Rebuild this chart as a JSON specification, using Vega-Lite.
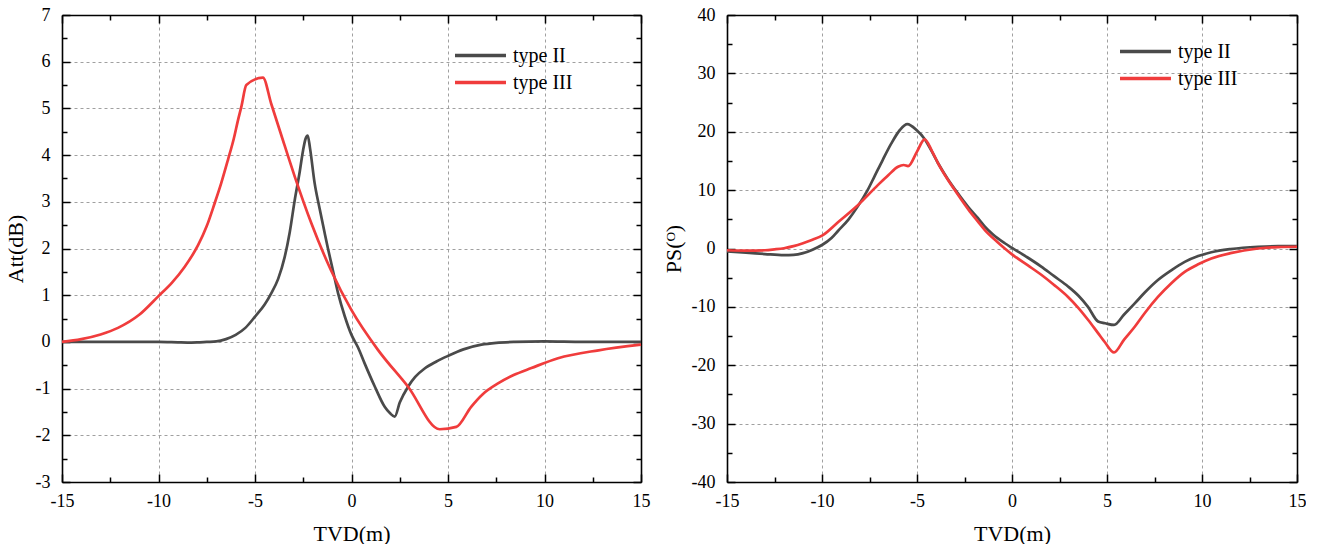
{
  "$schema": "https://vega.github.io/schema/vega-lite/v6.json",
  "background": "white",
  "padding": {"left": 4, "top": 6, "right": 0, "bottom": 0},
  "config": {
    "font": "Liberation Serif",
    "view": {"stroke": null},
    "style": {"guide-label": {"font": "Liberation Serif", "fontSize": 18, "fill": "black"}, "guide-title": {"font": "Liberation Serif", "fontSize": 22, "fontWeight": "normal", "fill": "black"}},
    "axis": {
      "domainColor": "black", "domainWidth": 1.6,
      "tickColor": "black", "tickWidth": 1.5,
      "labelFont": "Liberation Serif", "labelFontSize": 18, "labelColor": "black",
      "titleFont": "Liberation Serif", "titleFontSize": 22, "titleFontWeight": "normal", "titleColor": "black",
      "gridColor": "#a0a0a0", "gridDash": [3, 3], "gridWidth": 1,
      "labelOverlap": false, "labelFlush": false
    },
    "legend": {
      "labelFont": "Liberation Serif", "labelFontSize": 20, "labelColor": "black",
      "symbolType": "M-2,0H2", "symbolStrokeWidth": 3.5, "symbolSize": 650, "symbolFillColor": "transparent",
      "padding": 0, "rowPadding": 2, "labelOffset": 18
    }
  },
  "datasets": {
    "att": [
      {"x": -15, "y": 0, "type": "type II"}, {"x": -13, "y": 0, "type": "type II"}, {"x": -11, "y": 0, "type": "type II"}, {"x": -10, "y": 0, "type": "type II"}, {"x": -9, "y": -0.01, "type": "type II"}, {"x": -8.5, "y": -0.015, "type": "type II"}, {"x": -8, "y": -0.01, "type": "type II"}, {"x": -7.5, "y": 0.0, "type": "type II"}, {"x": -7, "y": 0.01, "type": "type II"}, {"x": -6.5, "y": 0.06, "type": "type II"}, {"x": -6, "y": 0.15, "type": "type II"}, {"x": -5.5, "y": 0.3, "type": "type II"}, {"x": -5, "y": 0.54, "type": "type II"}, {"x": -4.5, "y": 0.8, "type": "type II"}, {"x": -4.16, "y": 1.04, "type": "type II"}, {"x": -3.8, "y": 1.35, "type": "type II"}, {"x": -3.46, "y": 1.82, "type": "type II"}, {"x": -3.2, "y": 2.35, "type": "type II"}, {"x": -2.94, "y": 3.04, "type": "type II"}, {"x": -2.7, "y": 3.6, "type": "type II"}, {"x": -2.51, "y": 4.1, "type": "type II"}, {"x": -2.38, "y": 4.35, "type": "type II"}, {"x": -2.27, "y": 4.42, "type": "type II"}, {"x": -2.15, "y": 4.15, "type": "type II"}, {"x": -1.91, "y": 3.4, "type": "type II"}, {"x": -1.65, "y": 2.85, "type": "type II"}, {"x": -1.39, "y": 2.33, "type": "type II"}, {"x": -1.22, "y": 2.0, "type": "type II"}, {"x": -1.0, "y": 1.6, "type": "type II"}, {"x": -0.7, "y": 1.05, "type": "type II"}, {"x": -0.35, "y": 0.55, "type": "type II"}, {"x": 0, "y": 0.15, "type": "type II"}, {"x": 0.34, "y": -0.12, "type": "type II"}, {"x": 0.68, "y": -0.46, "type": "type II"}, {"x": 1.2, "y": -0.95, "type": "type II"}, {"x": 1.72, "y": -1.39, "type": "type II"}, {"x": 2.0, "y": -1.53, "type": "type II"}, {"x": 2.24, "y": -1.6, "type": "type II"}, {"x": 2.5, "y": -1.3, "type": "type II"}, {"x": 2.93, "y": -0.96, "type": "type II"}, {"x": 3.3, "y": -0.75, "type": "type II"}, {"x": 3.79, "y": -0.57, "type": "type II"}, {"x": 4.4, "y": -0.42, "type": "type II"}, {"x": 5.0, "y": -0.3, "type": "type II"}, {"x": 5.8, "y": -0.16, "type": "type II"}, {"x": 6.73, "y": -0.06, "type": "type II"}, {"x": 7.5, "y": -0.02, "type": "type II"}, {"x": 8.46, "y": 0.0, "type": "type II"}, {"x": 10, "y": 0.01, "type": "type II"}, {"x": 12, "y": 0, "type": "type II"}, {"x": 15, "y": 0, "type": "type II"},
      {"x": -15, "y": 0, "type": "type III"}, {"x": -14, "y": 0.06, "type": "type III"}, {"x": -13, "y": 0.16, "type": "type III"}, {"x": -12.1, "y": 0.3, "type": "type III"}, {"x": -11, "y": 0.58, "type": "type III"}, {"x": -10, "y": 0.98, "type": "type III"}, {"x": -9.3, "y": 1.27, "type": "type III"}, {"x": -8.64, "y": 1.61, "type": "type III"}, {"x": -7.95, "y": 2.07, "type": "type III"}, {"x": -7.5, "y": 2.48, "type": "type III"}, {"x": -7.09, "y": 2.97, "type": "type III"}, {"x": -6.75, "y": 3.4, "type": "type III"}, {"x": -6.4, "y": 3.9, "type": "type III"}, {"x": -6.1, "y": 4.35, "type": "type III"}, {"x": -5.88, "y": 4.75, "type": "type III"}, {"x": -5.7, "y": 5.05, "type": "type III"}, {"x": -5.45, "y": 5.5, "type": "type III"}, {"x": -4.59, "y": 5.66, "type": "type III"}, {"x": -4.16, "y": 5.1, "type": "type III"}, {"x": -3.64, "y": 4.43, "type": "type III"}, {"x": -2.94, "y": 3.54, "type": "type III"}, {"x": -2.08, "y": 2.54, "type": "type III"}, {"x": -1.07, "y": 1.54, "type": "type III"}, {"x": 0, "y": 0.68, "type": "type III"}, {"x": 1.37, "y": -0.17, "type": "type III"}, {"x": 2.93, "y": -0.96, "type": "type III"}, {"x": 4.57, "y": -1.87, "type": "type III"}, {"x": 5.43, "y": -1.82, "type": "type III"}, {"x": 6.2, "y": -1.39, "type": "type III"}, {"x": 6.8, "y": -1.12, "type": "type III"}, {"x": 7.59, "y": -0.89, "type": "type III"}, {"x": 8.4, "y": -0.71, "type": "type III"}, {"x": 9.32, "y": -0.56, "type": "type III"}, {"x": 10.7, "y": -0.35, "type": "type III"}, {"x": 12.8, "y": -0.18, "type": "type III"}, {"x": 15, "y": -0.06, "type": "type III"}
    ],
    "ps": [
      {"x": -15, "y": -0.5, "type": "type II"}, {"x": -14, "y": -0.7, "type": "type II"}, {"x": -13, "y": -0.95, "type": "type II"}, {"x": -12, "y": -1.15, "type": "type II"}, {"x": -11.5, "y": -1.1, "type": "type II"}, {"x": -11, "y": -0.8, "type": "type II"}, {"x": -10.5, "y": -0.2, "type": "type II"}, {"x": -10, "y": 0.6, "type": "type II"}, {"x": -9.5, "y": 1.8, "type": "type II"}, {"x": -9.16, "y": 3.0, "type": "type II"}, {"x": -8.6, "y": 5.0, "type": "type II"}, {"x": -8.1, "y": 7.3, "type": "type II"}, {"x": -7.6, "y": 10.0, "type": "type II"}, {"x": -7.23, "y": 12.4, "type": "type II"}, {"x": -6.8, "y": 15.2, "type": "type II"}, {"x": -6.35, "y": 18.0, "type": "type II"}, {"x": -5.9, "y": 20.3, "type": "type II"}, {"x": -5.51, "y": 21.3, "type": "type II"}, {"x": -5.0, "y": 20.2, "type": "type II"}, {"x": -4.63, "y": 18.9, "type": "type II"}, {"x": -4.25, "y": 16.8, "type": "type II"}, {"x": -3.89, "y": 14.6, "type": "type II"}, {"x": -3.4, "y": 12.0, "type": "type II"}, {"x": -2.84, "y": 9.4, "type": "type II"}, {"x": -2.3, "y": 7.1, "type": "type II"}, {"x": -1.79, "y": 5.2, "type": "type II"}, {"x": -1.44, "y": 3.8, "type": "type II"}, {"x": -1.0, "y": 2.4, "type": "type II"}, {"x": -0.38, "y": 0.9, "type": "type II"}, {"x": 0, "y": 0.1, "type": "type II"}, {"x": 0.8, "y": -1.5, "type": "type II"}, {"x": 1.54, "y": -3.1, "type": "type II"}, {"x": 2.2, "y": -4.7, "type": "type II"}, {"x": 2.95, "y": -6.5, "type": "type II"}, {"x": 3.5, "y": -8.1, "type": "type II"}, {"x": 4.0, "y": -10.0, "type": "type II"}, {"x": 4.53, "y": -12.5, "type": "type II"}, {"x": 4.9, "y": -12.8, "type": "type II"}, {"x": 5.37, "y": -13.1, "type": "type II"}, {"x": 5.9, "y": -11.3, "type": "type II"}, {"x": 6.46, "y": -9.4, "type": "type II"}, {"x": 7.0, "y": -7.5, "type": "type II"}, {"x": 7.68, "y": -5.4, "type": "type II"}, {"x": 8.4, "y": -3.7, "type": "type II"}, {"x": 9.09, "y": -2.3, "type": "type II"}, {"x": 9.8, "y": -1.3, "type": "type II"}, {"x": 10.49, "y": -0.65, "type": "type II"}, {"x": 11.5, "y": -0.1, "type": "type II"}, {"x": 12.95, "y": 0.3, "type": "type II"}, {"x": 14, "y": 0.4, "type": "type II"}, {"x": 15, "y": 0.4, "type": "type II"},
      {"x": -15, "y": -0.3, "type": "type III"}, {"x": -14, "y": -0.35, "type": "type III"}, {"x": -13, "y": -0.3, "type": "type III"}, {"x": -12.5, "y": -0.15, "type": "type III"}, {"x": -12, "y": 0.05, "type": "type III"}, {"x": -11.5, "y": 0.4, "type": "type III"}, {"x": -11, "y": 0.9, "type": "type III"}, {"x": -10.5, "y": 1.5, "type": "type III"}, {"x": -10, "y": 2.2, "type": "type III"}, {"x": -9.16, "y": 4.5, "type": "type III"}, {"x": -8.1, "y": 7.45, "type": "type III"}, {"x": -7.05, "y": 10.9, "type": "type III"}, {"x": -6.5, "y": 12.6, "type": "type III"}, {"x": -6.0, "y": 14.0, "type": "type III"}, {"x": -5.7, "y": 14.3, "type": "type III"}, {"x": -5.47, "y": 14.1, "type": "type III"}, {"x": -5.0, "y": 16.6, "type": "type III"}, {"x": -4.6, "y": 18.7, "type": "type III"}, {"x": -4.2, "y": 16.6, "type": "type III"}, {"x": -3.89, "y": 14.6, "type": "type III"}, {"x": -3.4, "y": 11.9, "type": "type III"}, {"x": -2.84, "y": 9.2, "type": "type III"}, {"x": -2.3, "y": 6.7, "type": "type III"}, {"x": -1.79, "y": 4.6, "type": "type III"}, {"x": -1.44, "y": 3.2, "type": "type III"}, {"x": -0.8, "y": 1.2, "type": "type III"}, {"x": -0.38, "y": 0.0, "type": "type III"}, {"x": 0, "y": -1.0, "type": "type III"}, {"x": 0.84, "y": -2.9, "type": "type III"}, {"x": 1.54, "y": -4.5, "type": "type III"}, {"x": 2.2, "y": -6.2, "type": "type III"}, {"x": 2.95, "y": -8.3, "type": "type III"}, {"x": 3.5, "y": -10.2, "type": "type III"}, {"x": 4.0, "y": -12.2, "type": "type III"}, {"x": 4.53, "y": -14.5, "type": "type III"}, {"x": 4.9, "y": -16.1, "type": "type III"}, {"x": 5.37, "y": -17.8, "type": "type III"}, {"x": 5.9, "y": -15.6, "type": "type III"}, {"x": 6.46, "y": -13.4, "type": "type III"}, {"x": 7.0, "y": -11.0, "type": "type III"}, {"x": 7.68, "y": -8.3, "type": "type III"}, {"x": 8.4, "y": -5.9, "type": "type III"}, {"x": 9.09, "y": -4.0, "type": "type III"}, {"x": 9.8, "y": -2.7, "type": "type III"}, {"x": 10.49, "y": -1.7, "type": "type III"}, {"x": 11.5, "y": -0.8, "type": "type III"}, {"x": 12.95, "y": 0.0, "type": "type III"}, {"x": 14, "y": 0.25, "type": "type III"}, {"x": 15, "y": 0.3, "type": "type III"}
    ]
  },
  "spacing": 86,
  "bounds": "flush",
  "resolve": {"scale": {"color": "independent"}},
  "hconcat": [
    {
      "width": 579, "height": 467,
      "data": {"name": "att"},
      "resolve": {"axis": {"x": "independent", "y": "independent"}},
      "layer": [
        {
          "mark": {"type": "line", "strokeWidth": 2.7, "interpolate": "monotone"},
          "encoding": {
            "x": {"field": "x", "type": "quantitative", "scale": {"domain": [-15, 15], "nice": false},
              "axis": {"orient": "bottom", "values": [-15, -12.5, -10, -7.5, -5, -2.5, 0, 2.5, 5, 7.5, 10, 12.5, 15],
                "labelExpr": "datum.value % 5 === 0 ? toString(datum.value) : ''",
                "labelFont": "Liberation Serif", "labelFontSize": 18, "titleFont": "Liberation Serif", "titleFontSize": 22,
                "grid": true, "gridOpacity": {"condition": {"test": "datum.value % 5 !== 0", "value": 0}, "value": 1},
                "tickSize": {"condition": {"test": "datum.value % 5 !== 0", "value": -5}, "value": -8},
                "labelPadding": 18, "title": "TVD(m)", "titlePadding": 10}},
            "y": {"field": "y", "type": "quantitative", "scale": {"domain": [-3, 7], "nice": false, "zero": false},
              "axis": {"orient": "left", "values": [-3, -2.5, -2, -1.5, -1, -0.5, 0, 0.5, 1, 1.5, 2, 2.5, 3, 3.5, 4, 4.5, 5, 5.5, 6, 6.5, 7],
                "labelExpr": "datum.value % 1 === 0 ? toString(datum.value) : ''",
                "labelFont": "Liberation Serif", "labelFontSize": 18, "titleFont": "Liberation Serif", "titleFontSize": 22,
                "grid": true, "gridOpacity": {"condition": {"test": "datum.value % 1 !== 0", "value": 0}, "value": 1},
                "tickSize": {"condition": {"test": "datum.value % 1 !== 0", "value": -5}, "value": -8},
                "labelPadding": 20, "title": "Att(dB)", "titlePadding": 8}},
            "color": {"field": "type", "type": "nominal",
              "scale": {"domain": ["type II", "type III"], "range": ["#4a4a4a", "#f03c3c"]},
              "legend": {"title": null, "orient": "none", "legendX": 404, "legendY": 26}}
          }
        },
        {
          "mark": {"type": "line", "opacity": 0},
          "encoding": {
            "x": {"field": "x", "type": "quantitative",
              "axis": {"orient": "top", "values": [-15, -12.5, -10, -7.5, -5, -2.5, 0, 2.5, 5, 7.5, 10, 12.5, 15],
                "labels": false, "grid": false, "title": null,
                "tickSize": {"condition": {"test": "datum.value % 5 !== 0", "value": -5}, "value": -8}}},
            "y": {"field": "y", "type": "quantitative",
              "axis": {"orient": "right", "values": [-3, -2.5, -2, -1.5, -1, -0.5, 0, 0.5, 1, 1.5, 2, 2.5, 3, 3.5, 4, 4.5, 5, 5.5, 6, 6.5, 7],
                "labels": false, "grid": false, "title": null,
                "tickSize": {"condition": {"test": "datum.value % 1 !== 0", "value": -5}, "value": -8}}}
          }
        }
      ]
    },
    {
      "width": 570, "height": 467,
      "data": {"name": "ps"},
      "resolve": {"axis": {"x": "independent", "y": "independent"}},
      "layer": [
        {
          "mark": {"type": "line", "strokeWidth": 2.7, "interpolate": "monotone"},
          "encoding": {
            "x": {"field": "x", "type": "quantitative", "scale": {"domain": [-15, 15], "nice": false},
              "axis": {"orient": "bottom", "values": [-15, -12.5, -10, -7.5, -5, -2.5, 0, 2.5, 5, 7.5, 10, 12.5, 15],
                "labelExpr": "datum.value % 5 === 0 ? toString(datum.value) : ''",
                "labelFont": "Liberation Serif", "labelFontSize": 18, "titleFont": "Liberation Serif", "titleFontSize": 22,
                "grid": true, "gridOpacity": {"condition": {"test": "datum.value % 5 !== 0", "value": 0}, "value": 1},
                "tickSize": {"condition": {"test": "datum.value % 5 !== 0", "value": -5}, "value": -8},
                "labelPadding": 18, "title": "TVD(m)", "titlePadding": 10}},
            "y": {"field": "y", "type": "quantitative", "scale": {"domain": [-40, 40], "nice": false, "zero": false},
              "axis": {"orient": "left", "values": [-40, -35, -30, -25, -20, -15, -10, -5, 0, 5, 10, 15, 20, 25, 30, 35, 40],
                "labelExpr": "datum.value % 10 === 0 ? toString(datum.value) : ''",
                "labelFont": "Liberation Serif", "labelFontSize": 18, "titleFont": "Liberation Serif", "titleFontSize": 22,
                "grid": true, "gridOpacity": {"condition": {"test": "datum.value % 10 !== 0", "value": 0}, "value": 1},
                "tickSize": {"condition": {"test": "datum.value % 10 !== 0", "value": -5}, "value": -8},
                "labelPadding": 20, "title": "PS(ᴼ)", "titlePadding": 6}},
            "color": {"field": "type", "type": "nominal",
              "scale": {"domain": ["type II", "type III"], "range": ["#4a4a4a", "#f03c3c"]},
              "legend": {"title": null, "orient": "none", "legendX": 404, "legendY": 22}}
          }
        },
        {
          "mark": {"type": "line", "opacity": 0},
          "encoding": {
            "x": {"field": "x", "type": "quantitative",
              "axis": {"orient": "top", "values": [-15, -12.5, -10, -7.5, -5, -2.5, 0, 2.5, 5, 7.5, 10, 12.5, 15],
                "labels": false, "grid": false, "title": null,
                "tickSize": {"condition": {"test": "datum.value % 5 !== 0", "value": -5}, "value": -8}}},
            "y": {"field": "y", "type": "quantitative",
              "axis": {"orient": "right", "values": [-40, -35, -30, -25, -20, -15, -10, -5, 0, 5, 10, 15, 20, 25, 30, 35, 40],
                "labels": false, "grid": false, "title": null,
                "tickSize": {"condition": {"test": "datum.value % 10 !== 0", "value": -5}, "value": -8}}}
          }
        }
      ]
    }
  ]
}
